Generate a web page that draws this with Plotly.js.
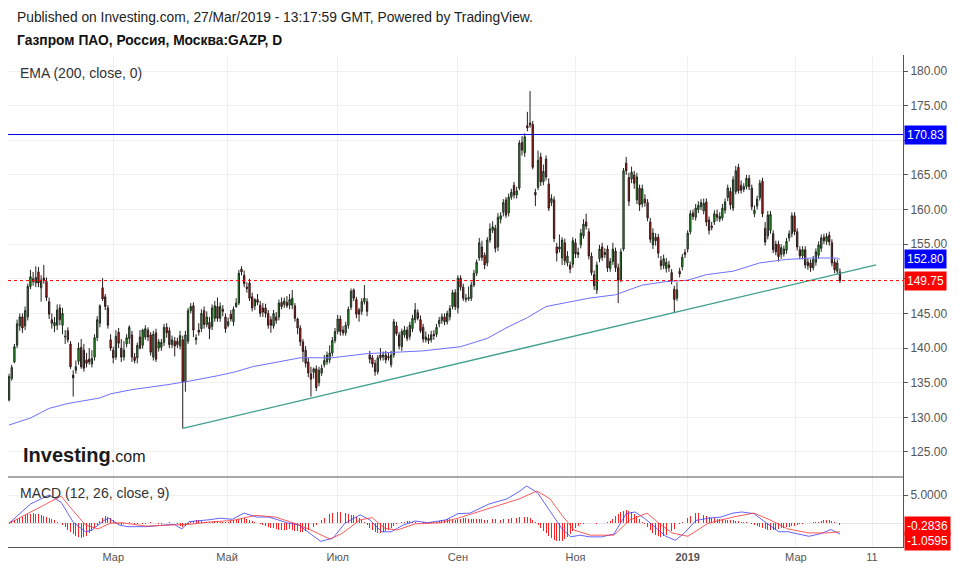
<!DOCTYPE html>
<html><head><meta charset="utf-8">
<script src="https://cdn.plot.ly/plotly-3.0.1.min.js"></script>
<style>html,body{margin:0;padding:0;background:#fff;}#chart{width:958px;height:570px;}</style>
</head><body><div id="chart"></div>
<script>
// ---- data ----
const openP = [
132.5,135.6,138.0,140.4,143.2,144.5,143.2,144.5,148.9,150.0,
149.4,151.0,148.7,150.1,149.6,146.7,144.1,143.2,143.3,145.8,
143.3,141.6,142.5,140.6,136.1,136.8,138.1,140.1,139.7,138.3,
138.4,137.7,138.7,141.5,143.6,148.7,147.4,145.8,141.2,139.7,
138.7,142.3,140.0,138.7,140.6,141.4,141.9,138.7,138.6,141.6,
140.4,141.6,142.6,141.9,138.7,142.2,140.0,140.1,140.8,143.0,
142.5,140.5,141.0,141.0,140.3,141.2,135.1,141.0,145.4,146.1,
141.2,142.6,142.8,145.4,143.4,143.7,143.1,144.3,146.0,144.3,
145.6,144.5,143.3,144.9,143.8,146.0,146.5,151.4,150.5,148.8,
149.4,147.4,146.1,147.0,146.2,145.8,145.8,145.0,144.1,143.2,
144.5,144.5,146.6,146.3,146.6,146.2,146.2,146.1,144.2,142.9,
140.9,139.7,138.0,136.3,136.5,137.0,135.0,136.4,137.6,138.0,
138.3,139.3,141.1,142.4,144.2,142.6,142.2,143.3,145.9,148.4,
147.0,145.5,145.3,146.7,146.7,139.0,138.6,137.8,136.6,139.0,
138.7,139.0,138.8,137.6,139.0,143.2,141.9,140.2,141.9,142.6,
141.7,142.8,144.1,145.1,144.1,143.0,141.2,141.4,141.2,142.0,
142.0,143.5,144.0,144.5,143.8,144.5,146.0,148.0,145.8,150.1,
148.8,147.0,147.1,147.2,149.1,150.8,153.0,154.6,153.4,152.3,
155.6,157.0,157.3,154.6,158.6,159.6,161.4,159.5,161.8,163.5,
162.1,163.1,169.7,168.2,172.1,172.5,172.3,162.5,163.2,167.6,
164.0,167.3,163.7,161.0,161.4,154.6,154.3,153.0,155.2,152.3,
152.0,152.1,155.2,153.5,154.9,156.2,158.2,156.8,153.3,150.6,
148.4,152.9,154.6,153.5,154.3,151.5,152.5,154.0,151.6,149.9,
154.3,166.7,164.6,164.4,165.0,161.4,163.1,160.8,161.5,161.0,
158.2,154.9,156.0,156.0,152.6,151.9,151.5,152.0,150.9,148.5,
147.2,151.1,151.7,153.8,154.3,156.8,159.5,158.9,160.0,160.4,
159.8,161.1,158.5,157.6,158.2,159.3,158.6,158.8,159.9,161.7,
162.6,160.2,162.6,166.1,163.5,162.9,163.3,164.5,163.1,159.4,
160.5,161.7,164.1,157.3,156.2,157.0,156.5,155.0,155.0,153.5,
153.6,154.1,155.9,156.5,159.1,156.8,154.2,153.3,154.2,152.4,
152.3,151.6,152.4,153.4,154.4,156.0,155.4,156.3,155.2,152.4,
151.1,151.0];
const highP = [
136.3,137.6,140.6,144.1,145.0,145.0,146.0,149.3,151.3,151.0,
151.8,151.7,150.5,152.0,150.2,147.3,145.0,144.5,146.3,146.3,
145.8,142.6,143.0,141.0,136.8,138.2,140.8,141.3,140.6,139.3,
140.0,139.7,142.0,144.6,146.3,150.1,147.8,146.2,142.0,140.2,
142.6,142.9,141.3,141.0,142.0,143.3,142.5,139.3,140.8,142.6,
142.8,143.3,143.0,142.3,142.5,142.8,141.3,141.3,143.5,143.6,
143.0,141.8,141.6,141.5,142.5,141.8,142.5,145.8,146.5,146.6,
142.0,143.6,145.6,146.0,145.3,144.5,146.3,146.8,147.3,146.6,
146.2,145.0,144.4,145.5,146.0,147.2,151.3,151.8,151.2,149.5,
150.0,148.0,147.2,147.8,146.8,146.5,146.4,145.5,144.6,145.5,
145.2,147.0,147.3,147.3,147.5,147.8,148.4,146.5,144.4,143.3,
141.3,140.3,138.6,137.3,137.2,137.5,137.3,137.6,139.0,139.5,
140.4,141.6,142.9,144.8,144.7,143.2,143.8,146.0,148.6,148.6,
147.4,145.8,147.2,149.1,147.2,139.6,139.0,138.3,139.0,140.0,
139.5,139.6,139.3,139.6,144.2,143.8,142.3,142.8,143.2,143.1,
143.8,144.8,146.5,145.6,144.7,143.5,142.4,142.0,142.5,142.6,
143.5,144.5,145.0,145.0,145.4,146.2,148.4,148.5,150.5,150.5,
149.3,147.8,148.9,149.6,151.3,152.8,155.9,155.5,153.8,156.0,
158.0,158.3,157.8,159.5,159.6,161.5,161.8,162.3,163.0,164.0,
163.3,170.0,170.6,171.0,174.1,177.1,172.8,163.0,168.5,168.2,
166.5,167.8,164.5,162.2,161.9,155.2,156.4,156.0,155.8,154.0,
152.5,156.0,155.8,154.5,157.2,158.6,159.4,157.3,153.8,151.2,
152.5,154.9,155.2,154.4,154.8,153.0,155.2,154.5,152.2,154.4,
166.0,167.6,165.3,166.2,165.6,165.3,163.6,163.6,162.2,161.5,
158.8,157.3,156.6,156.5,153.3,153.5,153.0,152.6,151.4,149.0,
149.5,151.6,153.6,154.3,157.0,159.9,160.0,160.8,161.2,161.5,
161.6,161.6,159.0,158.2,159.9,160.0,159.6,160.8,161.6,163.6,
163.2,164.8,166.3,166.6,164.2,163.8,165.0,165.0,163.6,160.6,
162.0,164.3,164.6,158.2,159.8,159.8,157.0,155.5,155.5,155.0,
154.8,155.9,157.0,159.6,159.6,157.3,154.7,154.7,154.7,152.9,
152.8,153.3,154.4,155.4,156.4,156.5,156.6,156.8,155.7,152.9,
152.8,151.5];
const lowP = [
132.3,135.3,137.8,140.0,142.5,142.2,142.6,144.0,148.5,149.0,
148.8,148.8,146.7,149.3,146.8,144.2,142.8,142.3,142.6,143.3,
142.0,140.6,140.8,137.0,133.0,136.3,137.6,137.0,136.6,137.2,
137.6,137.2,138.2,141.0,143.0,146.8,145.5,142.8,139.6,137.8,
138.3,140.0,138.0,138.2,140.1,140.6,138.0,137.8,137.8,139.8,
139.9,141.2,141.0,138.9,138.2,138.0,139.5,139.6,140.3,141.5,
140.0,140.0,138.8,140.0,139.8,128.4,133.7,140.6,145.0,141.6,
140.5,141.8,142.3,142.8,143.0,141.3,142.6,143.8,143.8,143.8,
144.6,142.2,143.0,143.8,143.2,145.8,146.2,150.5,148.8,148.0,
146.8,145.3,145.5,146.2,144.5,144.5,144.4,142.8,142.2,142.8,
143.5,144.0,145.6,145.8,145.8,145.6,145.6,143.8,142.0,140.3,
138.0,137.2,135.8,133.0,135.6,133.8,134.5,136.0,137.2,137.6,
137.8,138.8,140.7,142.0,141.8,141.8,141.8,142.8,145.5,146.8,
144.3,143.8,144.8,146.3,144.6,137.8,137.2,136.0,136.2,138.2,
138.2,137.8,138.2,137.2,138.6,141.8,139.8,139.6,141.5,141.0,
141.2,142.3,143.6,144.0,142.2,140.8,140.8,140.6,140.8,141.2,
141.6,143.0,143.5,143.3,143.4,144.0,145.6,145.5,145.0,148.3,
146.8,146.6,146.8,146.8,148.8,150.4,152.6,152.6,151.4,151.8,
155.2,156.6,153.8,154.0,158.0,159.0,158.8,159.0,161.4,161.6,
161.6,162.8,167.8,167.6,171.3,171.8,165.8,160.5,162.8,163.4,
163.5,164.2,159.8,160.5,155.3,152.5,153.8,152.0,152.0,151.8,
150.8,151.6,153.0,153.0,154.4,155.8,157.1,152.8,150.5,148.4,
147.8,152.4,152.6,153.0,151.0,151.0,152.0,151.0,146.5,149.5,
154.0,165.0,160.5,163.8,163.0,160.8,159.8,160.3,160.4,158.3,
155.2,154.3,154.8,153.0,151.3,151.4,150.9,151.0,149.2,145.1,
146.8,150.2,151.2,153.0,153.8,156.4,158.5,158.4,159.5,159.9,
159.3,157.6,156.4,157.0,157.8,158.3,158.2,158.4,159.4,161.2,
160.0,159.8,162.2,162.3,162.3,162.5,162.9,162.8,159.9,158.9,
160.0,161.3,158.9,154.8,155.7,156.5,153.7,153.4,152.5,152.9,
153.2,153.6,155.4,156.0,156.3,154.1,152.8,152.8,151.5,151.3,
151.0,151.2,151.9,152.9,153.9,155.0,154.9,154.8,151.8,150.8,
150.6,149.4];
const closeP = [
135.9,137.2,140.2,143.5,144.5,142.9,145.4,148.9,150.3,149.6,
150.2,149.4,149.8,149.8,147.3,144.9,143.6,143.7,145.5,144.1,
145.0,141.7,141.2,137.3,135.7,137.3,140.0,137.3,137.1,137.8,
138.0,138.5,141.5,144.1,146.1,147.1,146.0,143.3,140.0,138.6,
141.7,140.7,138.7,139.7,141.5,143.0,138.7,138.2,140.4,140.0,
142.6,142.8,141.6,139.4,142.0,138.4,140.9,140.8,143.0,142.2,
140.5,141.2,140.3,140.5,141.8,135.1,141.9,145.4,146.0,142.6,
141.5,142.3,145.0,143.4,144.5,142.8,145.8,146.1,144.3,146.0,
145.3,142.8,143.8,144.2,145.6,146.5,150.8,151.0,149.3,148.6,
147.2,145.8,147.0,146.6,145.0,145.2,145.0,143.3,143.3,145.0,
144.0,146.5,146.0,146.8,146.1,147.0,147.2,144.3,142.9,140.9,
139.5,137.8,136.4,135.5,137.0,134.3,136.8,137.1,138.2,139.0,
139.3,141.1,142.4,144.2,142.4,142.2,143.3,145.6,148.2,147.2,
144.9,144.9,146.7,147.2,145.3,138.4,137.7,136.6,138.6,138.6,
139.0,138.3,138.6,139.0,143.8,142.1,140.3,142.4,142.6,141.4,
143.3,144.3,145.5,144.3,142.5,141.3,141.6,141.1,141.9,141.8,
143.0,144.0,144.5,143.8,145.0,145.7,148.0,146.0,150.1,148.8,
147.2,147.2,147.3,149.1,150.8,152.4,155.2,153.1,152.0,155.6,
157.2,157.5,154.4,158.9,159.1,161.0,159.2,161.8,162.5,162.1,
162.7,169.6,168.6,170.5,171.8,172.2,166.1,162.1,167.1,164.0,
165.5,164.7,160.2,161.6,155.8,153.7,154.6,155.6,152.6,153.3,
151.4,155.5,153.6,153.8,156.6,157.9,157.6,153.3,150.9,149.0,
152.0,154.3,153.1,153.8,151.6,152.5,154.3,151.6,149.8,153.9,
165.6,165.6,161.2,165.4,163.8,164.7,160.7,163.0,161.0,158.8,
155.7,156.6,155.5,153.7,151.9,152.9,152.4,151.6,149.7,147.0,
148.4,150.7,153.1,153.5,156.6,159.4,159.0,160.2,160.6,161.0,
160.9,158.2,157.0,157.4,159.4,158.9,159.0,160.2,161.1,163.1,
160.7,164.3,165.6,162.7,162.8,163.3,164.5,163.3,160.4,159.9,
161.5,163.8,159.4,155.3,159.2,159.3,154.2,153.9,153.2,154.5,
154.3,155.4,156.5,159.1,156.8,154.6,153.3,154.2,152.0,151.9,
151.6,152.8,153.9,154.9,155.9,155.5,156.1,155.3,152.3,151.3,
152.3,149.75];

const emaIdx = [0,8,12,15,22,34,38,46,59,67,78,85,91,100,109,121,134,155,169,179,186,194,201,209,217,227,237,246,254,261,271,281,291,301,310,311];
const emaVal = [128.9,129.9,130.7,131.3,132.0,132.8,133.4,134.0,134.7,135.2,136.0,136.6,137.3,138.0,138.6,138.6,139.2,139.6,140.2,141.4,142.9,144.4,146.0,146.6,147.2,147.7,149.1,149.6,149.8,150.6,151.1,152.3,152.8,153.0,153.0,152.8];

const trendIdx = [65, 324.5];
const trendVal = [128.4, 152.0];

const resistance = 170.83;
const lastClose = 149.75;
const emaLast = 152.80;

const macdIdx = [0,8,15,19.5,24,28.6,31,35.5,37.3,41.2,44.5,51.5,58.4,61.8,64.7,67.4,74.5,79,83.5,88,92.7,97.3,104,108.5,113.2,116.7,121.3,125.7,131.4,135,139.5,143,147.5,152,156.7,163.5,168,172.5,179.6,186.3,190.9,193.7,197.8,202.4,207,210.3,213.7,217.3,221.8,226.4,231,234.3,237.8,242.4,245.8,249.3,252.6,257.1,261.8,266.4,270.9,274.3,278.8,283.6,288.2,291.6,296.1,299.4,304.1,307.6,311];
const macdVal = [0,3.4,5.0,3.7,0.2,-1.5,-1.2,0.5,0.9,-0.3,-0.6,-0.6,-0.3,-0.2,-1.0,0.3,0.6,0.9,0.7,1.8,1.1,1.1,0.1,-0.3,-2.0,-3.2,-2.6,0,1.5,0.6,-1.5,-1.5,-0.3,0.4,0.1,0.6,1.7,1.8,3.4,4.3,5.6,6.6,5.4,2.2,-1.0,-2.4,-2.1,-2.4,-2.4,-1.9,1.7,2.0,0.9,-0.9,-2.3,-3.0,-1.8,0.5,0.9,1.1,1.8,2.0,1.7,0,-1.5,-1.5,-2.0,-2.3,-1.8,-1.1,-1.9];
const signalIdx = [0,7.9,19.5,24,28.6,33.3,37.8,42.3,51.3,60.6,67.4,74.5,83.5,92.4,99.6,106.3,113,120.1,124.6,131.4,135.9,140.7,145.2,152,161.3,168,179.6,190.9,197.6,202.5,207,211.5,217.5,226.4,232.4,238.8,243.3,248.1,254.1,261.6,271,278.8,284.8,291.5,299.4,306.1,311];
const signalVal = [0,2.0,4.8,2.2,-0.3,-1.0,0,0.1,-0.5,-0.3,-0.2,0.2,0.5,1.4,1.1,0.1,-1.2,-2.8,-1.8,0.6,1.0,-0.9,-1.2,-0.1,0.1,0.9,2.6,4.3,5.7,4.3,1.4,-1.2,-2.1,-2.1,0.6,1.8,0,-1.7,-2.3,0,1.1,1.8,0.6,-1.0,-1.7,-1.7,-1.5];
const histVal = [
0.2,0.4,0.6,0.8,1.0,1.2,1.4,1.6,1.7,1.8,1.7,1.6,1.5,1.3,
1.1,0.9,0.7,0.5,0.3,0.1,
-0.3,-0.7,-1.1,-1.5,-1.9,-2.3,-2.5,-2.6,-2.5,-2.2,-1.8,-1.3,-0.8,-0.3,
0.4,0.9,1.3,1.2,0.9,0.5,0.2,
-0.2,-0.3,-0.2,0.1,0.2,0.1,-0.1,-0.2,-0.3,-0.2,-0.1,0.1,0.2,0.1,0.0,-0.1,-0.2,-0.1,0.1,0.2,0.1,0.0,-0.2,-0.4,
-0.6,-0.5,-0.1,0.3,
0.4,0.5,0.5,0.4,0.3,0.3,0.2,0.3,0.4,0.4,0.3,0.2,0.2,0.3,0.4,0.5,0.6,0.8,0.9,0.9,0.8,0.6,
0.4,0.2,0.0,-0.2,-0.3,-0.5,-0.6,-0.8,-0.9,-1.0,-1.1,-1.2,-1.2,-1.1,-1.0,-1.1,-1.3,-1.4,-1.5,-1.5,
-1.4,-1.2,-0.9,-0.6,-0.3,0.1,0.5,0.9,
1.3,1.6,1.8,1.9,2.0,2.0,1.9,1.8,1.6,1.5,1.4,1.2,
0.9,0.6,0.2,-0.3,-0.8,-1.2,
-1.5,-1.7,-1.7,-1.6,-1.4,-1.1,-0.8,-0.5,-0.2,
0.1,0.2,0.3,0.4,0.4,0.3,0.2,0.1,0.1,0.2,0.3,0.3,0.2,0.2,0.3,
0.4,0.5,0.6,0.7,0.7,0.6,0.6,0.7,0.8,0.9,0.9,0.8,0.7,0.7,0.8,0.8,0.7,0.6,0.6,0.7,0.8,0.7,0.6,0.6,0.7,0.7,0.8,0.9,1.0,1.0,1.1,1.2,1.2,1.1,0.9,
0.6,0.2,-0.3,-0.8,-1.3,
-1.8,-2.2,-2.6,-2.9,-3.1,-3.2,-3.1,-2.8,-2.4,-1.9,-1.4,-0.9,
-0.5,-0.2,-0.1,0.0,0.1,0.1,0.0,-0.1,0.0,0.1,0.1,0.2,0.4,
0.8,1.3,1.7,2.0,2.2,2.3,2.2,2.0,1.7,1.3,0.8,
0.3,-0.2,-0.7,-1.2,-1.7,-2.0,-2.3,-2.4,-2.3,-2.1,-1.8,-1.4,-1.0,-0.6,
-0.2,0.2,0.6,1.0,1.3,1.6,1.8,1.8,1.7,1.5,1.3,1.1,
1.0,0.9,0.8,0.8,0.7,0.6,0.6,0.5,0.5,0.4,0.4,0.3,0.3,0.2,0.1,
-0.1,-0.3,-0.5,-0.7,-0.9,-1.0,-1.1,-1.2,-1.2,-1.1,-1.0,-0.9,-0.8,-0.7,-0.6,-0.5,-0.4,
-0.3,-0.2,-0.1,0.0,0.1,0.1,0.2,0.2,
0.3,0.4,0.5,0.6,0.5,0.4,0.2,0.0,-0.28];

const tickIdx = [39, 81.6, 123, 168, 212, 254, 294.5, 323];
const tickText = ['Мар','Май','Июл','Сен','Ноя','<b>2019</b>','Мар','11'];
const priceTicks = [125,130,135,140,145,150,155,160,165,170,175,180];
// 150.00 and 170.00 sit under the price labels in the reference
const priceTickText = ['125.00','130.00','135.00','140.00','145.00','','155.00','160.00','165.00','','175.00','180.00'];

// ---- build ----
const idx = closeP.map((_, i) => i);
const histIdx = histVal.map((_, i) => i);
const FONT = 'Arial, "Liberation Sans", sans-serif';

const traces = [
  {type:'scatter', mode:'lines', x: emaIdx, y: emaVal, xaxis:'x', yaxis:'y',
   line:{color:'#6f6fff', width:1}, hoverinfo:'skip'},
  {type:'scatter', mode:'lines', x: trendIdx, y: trendVal, xaxis:'x', yaxis:'y',
   line:{color:'#3f9f8c', width:1.3}, hoverinfo:'skip'},
  {type:'candlestick', x: idx, open: openP, high: highP, low: lowP, close: closeP,
   xaxis:'x', yaxis:'y', whiskerwidth:0,
   increasing:{line:{color:'#1f2a1f', width:1}, fillcolor:'#1fc21f'},
   decreasing:{line:{color:'#2a1a1a', width:1}, fillcolor:'#e01414'}},
  {type:'bar', x: histIdx, y: histVal, xaxis:'x2', yaxis:'y2', width:0.35,
   marker:{color:'#ff2020', line:{width:0}}, hoverinfo:'skip'},
  {type:'scatter', mode:'lines', x: macdIdx, y: macdVal, xaxis:'x2', yaxis:'y2',
   line:{color:'rgba(60,60,255,0.8)', width:1}, hoverinfo:'skip'},
  {type:'scatter', mode:'lines', x: signalIdx, y: signalVal, xaxis:'x2', yaxis:'y2',
   line:{color:'rgba(255,50,50,0.8)', width:1}, hoverinfo:'skip'}
];

const split = 70/492;
const xr = [-0.4, 334.6];

function priceLabel(v, bg, yref, txt){
  return {xref:'paper', yref: yref, x:1, y:v, xanchor:'left', yanchor:'middle',
    text: txt, showarrow:false, bgcolor:bg, borderpad:2,
    font:{family:FONT, size:12, color:'#ffffff'}, xshift:1};
}

const layout = {
  width:958, height:570,
  margin:{l:8, r:55, t:55, b:23},
  paper_bgcolor:'#ffffff', plot_bgcolor:'#ffffff',
  showlegend:false,
  font:{family:FONT, color:'#555555', size:12},
  xaxis:{domain:[0,1], range:xr, anchor:'y', tickvals:tickIdx, ticktext:tickText,
    showticklabels:false, showgrid:true, gridcolor:'#f0f0f0', zeroline:false,
    rangeslider:{visible:false}, fixedrange:true},
  xaxis2:{domain:[0,1], range:xr, anchor:'y2', matches:'x', tickvals:tickIdx, ticktext:tickText,
    showgrid:true, gridcolor:'#f0f0f0', zeroline:false, showline:true, linecolor:'#555555',
    ticks:'', tickfont:{size:11, color:'#555555'}, rangeslider:{visible:false}},
  yaxis:{domain:[split,1], range:[121.39,182.31], side:'right', tickvals:priceTicks,
    ticktext:priceTickText, showgrid:true, gridcolor:'#f0f0f0', zeroline:false,
    showline:true, linecolor:'#555555', ticks:'outside', ticklen:4, tickcolor:'#555555',
    tickfont:{size:12, color:'#555555'}},
  yaxis2:{domain:[0,split], range:[-4.19,8.18], side:'right', tickvals:[5], ticktext:['5.0000'],
    showgrid:true, gridcolor:'#f0f0f0', zeroline:true, zerolinecolor:'#e6e6e6', zerolinewidth:1,
    showline:true, linecolor:'#555555', ticks:'outside', ticklen:4, tickcolor:'#555555',
    tickfont:{size:12, color:'#555555'}},
  bargap:0,
  shapes:[
    {type:'line', xref:'paper', yref:'y', x0:0, x1:1, y0:resistance, y1:resistance,
     line:{color:'#0000e0', width:1}},
    {type:'line', xref:'paper', yref:'y', x0:0, x1:1, y0:lastClose, y1:lastClose,
     line:{color:'#ff0000', width:1, dash:'dot'}},
    {type:'line', xref:'paper', yref:'paper', x0:0, x1:1, y0:split, y1:split,
     line:{color:'#555555', width:1}}
  ],
  annotations:[
    {xref:'paper', yref:'paper', x:(15-8)/895, y:(547-17)/492, xanchor:'left', yanchor:'middle',
     text:'Published on Investing.com, 27/Mar/2019 - 13:17:59 GMT, Powered by TradingView.',
     showarrow:false, font:{family:FONT, size:13.8, color:'#222222'}},
    {xref:'paper', yref:'paper', x:(15-8)/895, y:(547-41)/492, xanchor:'left', yanchor:'middle',
     text:'<b>Газпром ПАО, Россия, Москва:GAZP, D</b>',
     showarrow:false, font:{family:FONT, size:13.8, color:'#111111'}},
    {xref:'paper', yref:'paper', x:(18-8)/895, y:(547-73)/492, xanchor:'left', yanchor:'middle',
     text:'EMA (200, close, 0)', showarrow:false, font:{family:FONT, size:14, color:'#333333'}},
    {xref:'paper', yref:'paper', x:(18-8)/895, y:(547-493)/492, xanchor:'left', yanchor:'middle',
     text:'MACD (12, 26, close, 9)', showarrow:false, font:{family:FONT, size:14, color:'#333333'}},
    {xref:'paper', yref:'paper', x:(21-8)/895, y:(547-455)/492, xanchor:'left', yanchor:'middle',
     text:'<b>Investing</b><span style="font-size:16px">.com</span>', showarrow:false,
     font:{family:FONT, size:20, color:'#1a1a1a'}},
    priceLabel(resistance, '#0000ff', 'y', '170.83'),
    priceLabel(emaLast, '#0000ff', 'y', '152.80'),
    priceLabel(lastClose, '#ff0000', 'y', '149.75'),
    priceLabel(-0.48, '#ff0000', 'y2', '-0.2836'),
    priceLabel(-3.1, '#ff0000', 'y2', '-1.0595')
  ]
};

Plotly.newPlot('chart', traces, layout, {staticPlot:true, displayModeBar:false});
</script></body></html>
